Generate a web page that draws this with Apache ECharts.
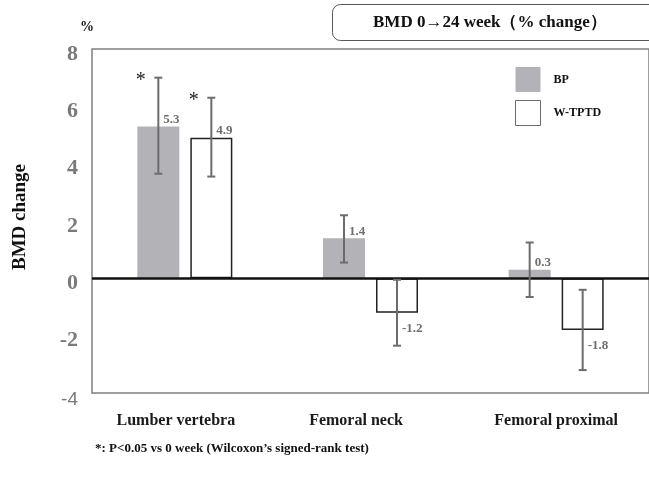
<!DOCTYPE html>
<html>
<head>
<meta charset="utf-8">
<script src="https://cdn.jsdelivr.net/npm/echarts@6/dist/echarts.min.js"></script>
<style>
html,body{margin:0;padding:0;background:#fff;}
#chart{width:649px;height:479px;}
</style>
</head>
<body>
<div id="chart"></div>
<script>
// ---- data ----
const categories = ['Lumber vertebra', 'Femoral neck', 'Femoral proximal'];
const seriesNames = ['BP', 'W-TPTD'];
const bpMean = [5.3, 1.4, 0.3];
const bpLow  = [3.65, 0.55, -0.65];
const bpHigh = [7.0, 2.2, 1.25];
const bpSig  = [true, false, false];
const wMean  = [4.9, -1.2, -1.8];
const wLow   = [3.55, -2.35, -3.2];
const wHigh  = [6.3, -0.05, -0.4];
const wSig   = [true, false, false];
const yMin = -4, yMax = 8, yStep = 2;
const titleText = 'BMD 0\u219224 week\uff08% change\uff09';
const unitText = '%';
const yName = 'BMD change';
const footText = '*: P<0.05 vs 0 week (Wilcoxon\u2019s signed-rank test)';

// ---- style ----
const SERIF = '"Liberation Serif", "DejaVu Serif", serif';
const BAR_W = 42, BAR_GAP = 11;
const OFF = (BAR_W + BAR_GAP) / 2;
const ERR_COLOR = '#6c6c6c';

function errData(mean, low, high, sig) {
  return mean.map((m, i) => [i, m, low[i], high[i], sig[i] ? 1 : 0]);
}

function makeErrRender(offset) {
  return function (params, api) {
    const i = api.value(0);
    const m = api.value(1), lo = api.value(2), hi = api.value(3), sig = api.value(4);
    const x = api.coord([i, 0])[0] + offset;
    const yM = api.coord([i, m])[1];
    const yLo = api.coord([i, lo])[1];
    const yHi = api.coord([i, hi])[1];
    const st = { stroke: ERR_COLOR, lineWidth: 2 };
    const cap = 4;
    const children = [
      { type: 'line', shape: { x1: x, y1: yHi, x2: x, y2: yLo }, style: st },
      { type: 'line', shape: { x1: x - cap, y1: yHi, x2: x + cap, y2: yHi }, style: st },
      { type: 'line', shape: { x1: x - cap, y1: yLo, x2: x + cap, y2: yLo }, style: st },
      {
        type: 'text',
        style: {
          x: x + 5, y: m >= 0 ? yM - 7 : yM + 16,
          text: m.toFixed(1), fill: '#6e6e6e',
          font: 'bold 13px ' + SERIF,
          align: 'left', verticalAlign: 'middle'
        }
      }
    ];
    if (sig) {
      children.push({
        type: 'text',
        style: {
          x: x - 17.5, y: yHi + 3, text: '*', fill: '#222',
          font: '20px ' + SERIF, align: 'center', verticalAlign: 'middle'
        }
      });
    }
    return { type: 'group', children: children };
  };
}

const chart = echarts.init(document.getElementById('chart'), null, { renderer: 'canvas' });
chart.setOption({
  animation: false,
  backgroundColor: '#fff',
  title: [
    {
      text: titleText, left: 332, top: 4,
      padding: [10, 400, 10, 41],
      borderColor: '#555', borderWidth: 1, borderRadius: 8,
      textStyle: { fontFamily: SERIF, fontWeight: 'bold', fontSize: 17, color: '#111' }
    },
    {
      text: unitText, left: 80, top: 20, padding: 0,
      textStyle: { fontFamily: SERIF, fontWeight: 'bold', fontSize: 14, color: '#111' }
    },
    {
      text: footText, left: 95, top: 442, padding: 0,
      textStyle: { fontFamily: SERIF, fontWeight: 'bold', fontSize: 13, color: '#111' }
    }
  ],
  legend: {
    data: [
      { name: seriesNames[0] },
      { name: seriesNames[1], itemStyle: { color: '#fff', borderColor: '#6a6a6a', borderWidth: 1 } }
    ],
    orient: 'vertical', left: 510, top: 62,
    icon: 'rect',
    itemWidth: 25, itemHeight: 25, itemGap: 8,
    textStyle: { fontFamily: SERIF, fontWeight: 'bold', fontSize: 12, color: '#111', padding: [4, 0, 0, 8] }
  },
  grid: {
    left: 92, right: -4, top: 49, bottom: 86,
    show: true, borderColor: '#808080', borderWidth: 1.5, backgroundColor: 'transparent'
  },
  xAxis: {
    type: 'category', data: categories,
    axisLine: { show: false }, axisTick: { show: false },
    axisLabel: {
      margin: 20,
      formatter: (v, i) => '{c' + i + '|' + v + '}',
      rich: {
        c0: { fontFamily: SERIF, fontWeight: 'bold', fontSize: 16, color: '#1a1a1a', padding: [0, 18, 0, 0] },
        c1: { fontFamily: SERIF, fontWeight: 'bold', fontSize: 16, color: '#1a1a1a', padding: [0, 29, 0, 0] },
        c2: { fontFamily: SERIF, fontWeight: 'bold', fontSize: 16, color: '#1a1a1a' }
      }
    },
    splitLine: { show: false }
  },
  yAxis: {
    type: 'value', min: yMin, max: yMax, interval: yStep,
    name: yName, nameLocation: 'middle', nameRotate: 90, nameGap: 62,
    nameTextStyle: { fontFamily: SERIF, fontWeight: 'bold', fontSize: 19, color: '#111', padding: [0, 0, 0, 8] },
    axisLine: { show: false }, axisTick: { show: false }, splitLine: { show: false },
    axisLabel: {
      margin: 14,
      formatter: v => (v === yMin ? '{t|' + v + '}' : '{b|' + v + '}'),
      rich: {
        b: { fontFamily: SERIF, fontWeight: 'bold', fontSize: 22, color: '#7a7a7a', padding: [10, 0, 0, 0] },
        t: { fontFamily: '"Liberation Sans", sans-serif', fontSize: 19, color: '#7a7a7a', padding: [14, 0, 0, 0] }
      }
    }
  },
  series: [
    {
      name: seriesNames[0], type: 'bar', data: bpMean,
      barWidth: BAR_W, barGap: (BAR_GAP / BAR_W * 100) + '%',
      itemStyle: { color: '#b3b3b7' },
      markLine: {
        silent: true, symbol: 'none', label: { show: false },
        lineStyle: { color: '#111', width: 2.5, type: 'solid' },
        data: [{ yAxis: 0 }]
      },
      z: 2
    },
    {
      name: seriesNames[1], type: 'bar', data: wMean,
      barWidth: BAR_W,
      itemStyle: { color: '#fff', borderColor: '#222', borderWidth: 1.5 },
      z: 2
    },
    {
      type: 'custom', name: 'errBP', data: errData(bpMean, bpLow, bpHigh, bpSig),
      renderItem: makeErrRender(-OFF), z: 5, silent: true
    },
    {
      type: 'custom', name: 'errW', data: errData(wMean, wLow, wHigh, wSig),
      renderItem: makeErrRender(OFF), z: 5, silent: true
    }
  ]
});
</script>
</body>
</html>
